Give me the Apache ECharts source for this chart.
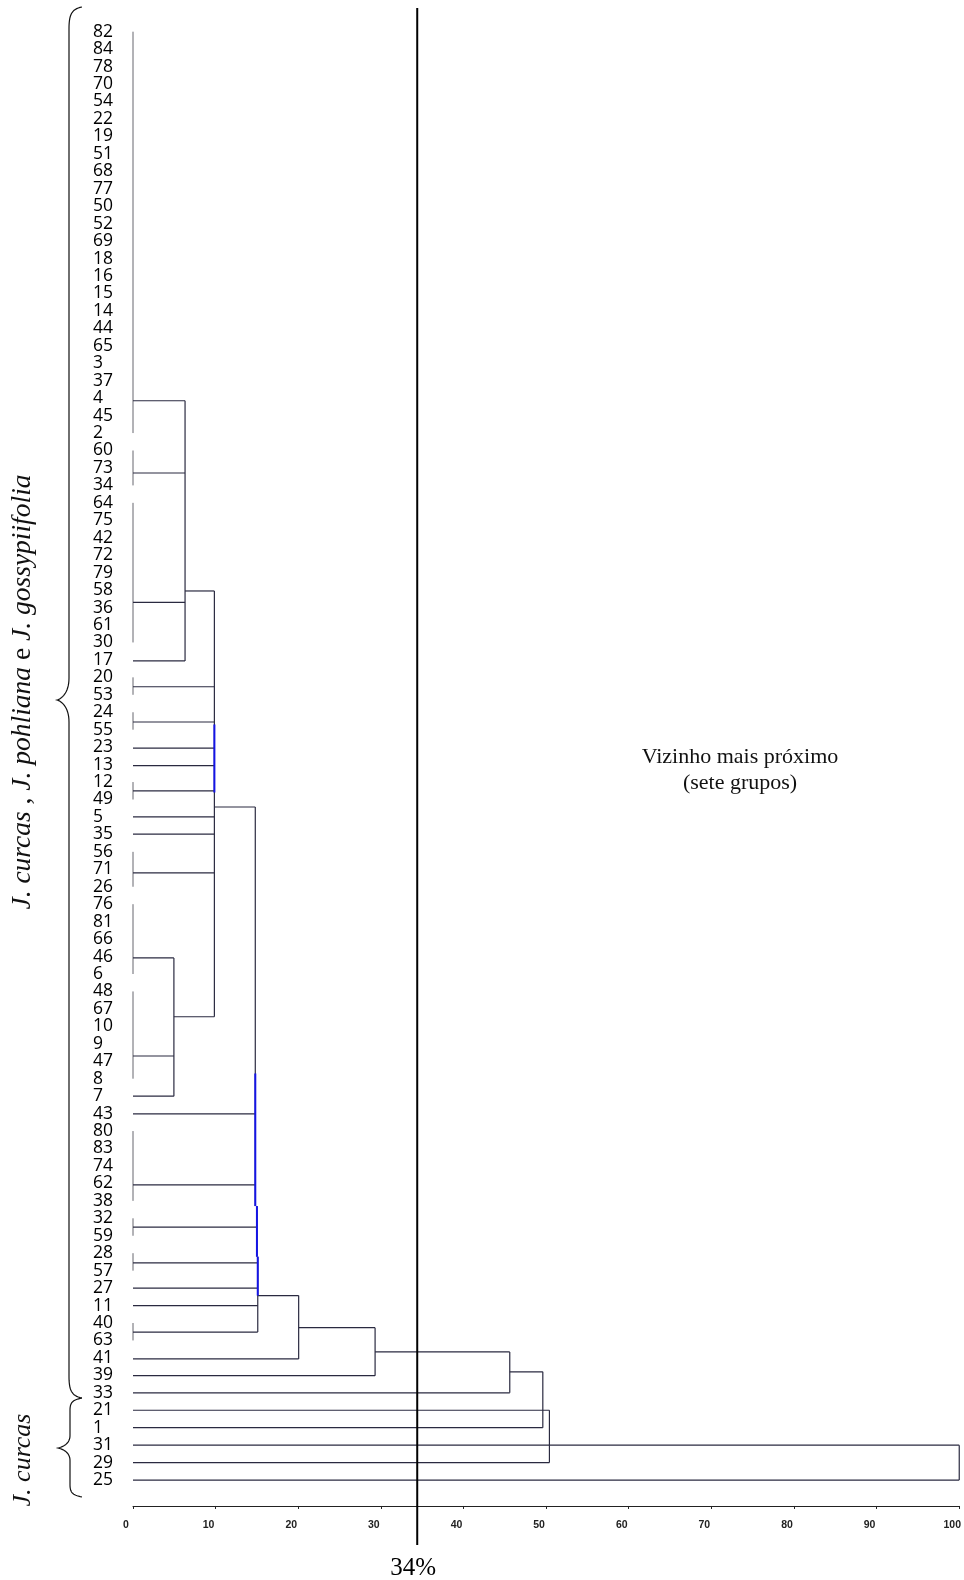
<!DOCTYPE html>
<html>
<head>
<meta charset="utf-8">
<script src="https://cdn.jsdelivr.net/npm/echarts@6/dist/echarts.min.js"></script>
<style>
html,body{margin:0;padding:0;background:#fff;}
#chart{width:964px;height:1580px;}
</style>
</head>
<body>
<div id="chart"></div>
<script>
// Leaf labels, top to bottom
const leafLabels = ['82','84','78','70','54','22','19','51','68','77','50','52','69','18','16','15','14','44','65','3','37','4','45','2','60','73','34','64','75','42','72','79','58','36','61','30','17','20','53','24','55','23','13','12','49','5','35','56','71','26','76','81','66','46','6','48','67','10','9','47','8','7','43','80','83','74','62','38','32','59','28','57','27','11','40','63','41','39','33','21','1','31','29','25'];

// Groups of leaves joined at distance 0: [first row, last row]
const zeroGroups = [[0,23],[24,26],[27,35],[37,38],[39,40],[43,44],[47,49],[50,54],[55,60],[63,67],[68,69],[70,71],[74,75]];

// Horizontal links: [row position, from distance, to distance]
const horizontals = [
  [21.15,0,6.3],[25.29,0,6.3],[32.7,0,6.3],[36.06,0,6.3],
  [32.05,6.3,9.85],
  [37.54,0,9.85],[39.56,0,9.85],[41.06,0,9.85],[42.06,0,9.85],[43.51,0,9.85],[45.0,0,9.85],[45.98,0,9.85],[48.21,0,9.85],
  [53.08,0,4.95],[58.7,0,4.95],[61.0,0,4.95],
  [56.45,4.95,9.85],
  [44.43,9.85,14.8],
  [62.02,0,14.8],[66.09,0,14.8],[68.5,0,15.0],[70.55,0,15.1],[72.0,0,15.1],[73.0,0,15.1],[74.52,0,15.1],
  [72.43,15.1,20.05],[76.06,0,20.05],
  [74.27,20.05,29.3],[77.02,0,29.3],
  [75.66,29.3,45.6],[78.0,0,45.6],
  [76.8,45.6,49.6],[80.0,0,49.6],
  [79.0,0,50.4],[82.0,0,50.4],
  [81.0,0,100],[83.0,0,100]
];

// Vertical links: [distance, from row, to row]
const verticals = [
  [6.3,21.15,36.06],[9.85,32.05,56.45],[4.95,53.08,61.0],
  [14.8,44.43,67.3],[15.0,67.3,70.2],[15.1,70.2,74.52],
  [20.05,72.43,76.06],[29.3,74.27,77.02],[45.6,75.66,78.0],
  [49.6,76.8,80.0],[50.4,79.0,82.0],[100,81.0,83.0]
];

// Blue highlighted vertical portions: [distance, from row, to row]
const blueVerticals = [[9.85,39.7,43.6],[14.8,59.7,67.3],[15.0,67.3,70.2],[15.1,70.2,72.43]];

// Axis ticks and cut level
const xTicks = [0,10,20,30,40,50,60,70,80,90,100];
const cutLevel = 34.4;
const cutLabel = '34%';

const segs = [];
zeroGroups.forEach(g => segs.push([0, g[0], 0, g[1], 0]));
horizontals.forEach(h => segs.push([h[1], h[0], h[2], h[0], 1]));
verticals.forEach(v => segs.push([v[0], v[1], v[0], v[2], 1]));
blueVerticals.forEach(v => segs.push([v[0], v[1], v[0], v[2], 2]));

const segStyles = [
  {stroke:'#66666f', lineWidth:1},
  {stroke:'#2a2a40', lineWidth:1.2},
  {stroke:'#1414e6', lineWidth:2}
];

// curly brace as polyline points (decorative annotation)
function bracePoints(xTip, xLine, xEnd, yTop, yMid, yBot){
  const pts = [];
  function cubic(p0,p1,p2,p3){
    for(let i=0;i<=16;i++){
      const t=i/16, u=1-t;
      pts.push([u*u*u*p0[0]+3*u*u*t*p1[0]+3*u*t*t*p2[0]+t*t*t*p3[0],
                u*u*u*p0[1]+3*u*u*t*p1[1]+3*u*t*t*p2[1]+t*t*t*p3[1]]);
    }
  }
  const h = Math.min(22, (yMid-yTop)/4);
  cubic([xEnd,yTop],[xLine+2,yTop+2],[xLine,yTop+h*0.4],[xLine,yTop+h]);
  cubic([xLine,yMid-h],[xLine,yMid-h*0.3],[xTip+4,yMid-1],[xTip,yMid]);
  cubic([xTip,yMid],[xTip+4,yMid+1],[xLine,yMid+h*0.3],[xLine,yMid+h]);
  cubic([xLine,yBot-h],[xLine,yBot-h*0.4],[xLine+2,yBot-2],[xEnd,yBot]);
  return pts;
}

const chart = echarts.init(document.getElementById('chart'), null, {renderer:'canvas'});
const gridTop = 22.975, rowH = 17.45;
chart.setOption({
  animation:false,
  backgroundColor:'#fff',
  grid:{left:133, right:3, top:gridTop, height:rowH*leafLabels.length},
  xAxis:{
    type:'value', min:0, max:100, interval:10, offset:17.2,
    axisLine:{onZero:false, lineStyle:{color:'#222', width:1}},
    axisTick:{length:3, lineStyle:{color:'#222'}},
    splitLine:{show:false},
    axisLabel:{fontSize:10.5, fontWeight:'bold', fontFamily:'Liberation Sans', color:'#222', margin:14, padding:[0,14,0,0],
      formatter:v => xTicks.indexOf(v) >= 0 ? String(v) : ''}
  },
  yAxis:[
    {type:'category', data:leafLabels, inverse:true,
     axisLine:{show:false}, axisTick:{show:false}, splitLine:{show:false},
     axisLabel:{interval:0, align:'left', margin:40, fontFamily:'Open Sans', fontSize:17.5, color:'#000'}},
    {type:'value', min:-0.5, max:leafLabels.length-0.5, inverse:true, show:false,
     axisLine:{show:false}, splitLine:{show:false}}
  ],
  series:[{
    type:'custom', yAxisIndex:1, coordinateSystem:'cartesian2d',
    data:segs, encode:{x:[0,2], y:[1,3]}, clip:false,
    renderItem:function(params, api){
      const p1 = api.coord([api.value(0), api.value(1)]);
      const p2 = api.coord([api.value(2), api.value(3)]);
      const s = segStyles[api.value(4)];
      return {type:'line', shape:{x1:p1[0], y1:p1[1], x2:p2[0], y2:p2[1]}, style:{stroke:s.stroke, lineWidth:s.lineWidth}};
    }
  }]
});

const cutX = chart.convertToPixel({xAxisIndex:0}, cutLevel);
chart.setOption({
  graphic:[
    {type:'line', shape:{x1:cutX, y1:8, x2:cutX, y2:1545}, style:{stroke:'#000', lineWidth:2}, z:10},
    {type:'text', x:cutX-4, y:1568, style:{text:cutLabel, font:'25px "Liberation Serif"', fill:'#000', align:'center', verticalAlign:'middle'}},
    {type:'text', x:740, y:770, style:{text:'Vizinho mais próximo\n(sete grupos)', font:'22px "Liberation Serif"', lineHeight:26, fill:'#111', align:'center', verticalAlign:'middle'}},
    {type:'polyline', shape:{points:bracePoints(57, 69, 82, 7, 700, 1398)}, style:{stroke:'#111', lineWidth:1.2, fill:null}},
    {type:'polyline', shape:{points:bracePoints(58, 70, 82, 1398, 1448, 1497)}, style:{stroke:'#111', lineWidth:1.2, fill:null}},
    {type:'text', x:23, y:692, rotation:Math.PI/2, style:{
      text:'{i|J. curcas} , {i|J. pohliana} e {i|J. gossypiifolia}',
      font:'27.5px "Liberation Serif"', fill:'#111', align:'center', verticalAlign:'middle',
      rich:{i:{fontStyle:'italic', fontFamily:'Liberation Serif', fontSize:27.5}}}},
    {type:'text', x:23, y:1460, rotation:Math.PI/2, style:{
      text:'J. curcas', font:'italic 26px "Liberation Serif"', fill:'#111', align:'center', verticalAlign:'middle'}}
  ]
});
</script>
</body>
</html>
